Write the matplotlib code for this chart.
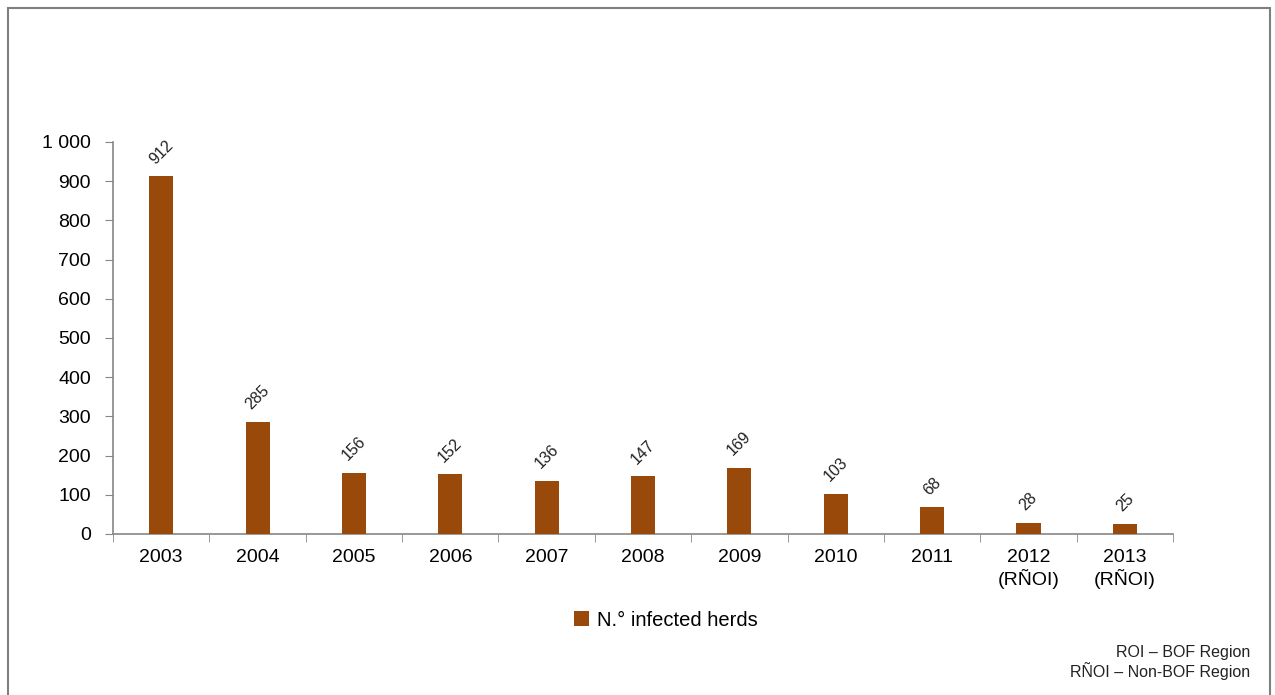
import matplotlib
matplotlib.use("Agg")
import matplotlib.pyplot as plt
from matplotlib.patches import Rectangle

# Data
years = ["2003", "2004", "2005", "2006", "2007", "2008", "2009", "2010", "2011",
         "2012\n(RÑOI)", "2013\n(RÑOI)"]
infected_herds = [912, 285, 156, 152, 136, 147, 169, 103, 68, 28, 25]
y_ticks = [0, 100, 200, 300, 400, 500, 600, 700, 800, 900, 1000]
y_tick_labels = ["0", "100", "200", "300", "400", "500", "600", "700", "800", "900", "1 000"]

BAR_COLOR = "#994a0a"
AXIS_COLOR = "#868686"

plt.rcParams["font.family"] = ["Liberation Sans", "DejaVu Sans"]

fig = plt.figure(figsize=(12.75, 6.95), dpi=100)
ax = fig.add_axes([113 / 1275, 1 - 534 / 695, (1173 - 113) / 1275, (534 - 142) / 695])

x = list(range(len(years)))
ax.bar(x, infected_herds, width=0.25, color=BAR_COLOR, label="N.° infected herds", zorder=3)

for xi, v in zip(x, infected_herds):
    ax.annotate(str(v), (xi, v), xytext=(0, 7), textcoords="offset points",
                ha="center", va="bottom", rotation=45, fontsize=11.5, color="#222222")

ax.set_xlim(-0.5, len(years) - 0.5)
ax.set_ylim(0, 1000)
ax.set_yticks(y_ticks)
ax.set_yticklabels(y_tick_labels, fontsize=14)
ax.set_xticks(x)
ax.set_xticklabels(years, fontsize=14)
ax.tick_params(axis="x", length=0, pad=11)
ax.set_xticks([i - 0.5 for i in range(len(years) + 1)], minor=True)
ax.tick_params(axis="x", which="minor", length=6, color=AXIS_COLOR, direction="out")
ax.tick_params(axis="y", length=6, color=AXIS_COLOR, direction="out", pad=10)

for side in ["top", "right"]:
    ax.spines[side].set_visible(False)
for side in ["left", "bottom"]:
    ax.spines[side].set_color(AXIS_COLOR)
    ax.spines[side].set_linewidth(1.2)

fig.legend(loc="center", bbox_to_anchor=(666 / 1275, 1 - 620 / 695), frameon=False,
           fontsize=14.5, handlelength=0.75, handleheight=0.75, handletextpad=0.4)

fig.text(1250 / 1275, 1 - 653 / 695, "ROI – BOF Region", ha="right", va="center",
         fontsize=11.5, color="#222222")
fig.text(1250 / 1275, 1 - 671 / 695, "RÑOI – Non-BOF Region", ha="right", va="center",
         fontsize=11.5, color="#222222")

# outer border of the chart area
fig.patches.append(Rectangle((8 / 1275, -0.01), 1262 / 1275, 1 - 8 / 695 + 0.01,
                             transform=fig.transFigure, fill=False,
                             edgecolor="#7f7f7f", linewidth=1.5))

fig.savefig("out.png", dpi=100)
